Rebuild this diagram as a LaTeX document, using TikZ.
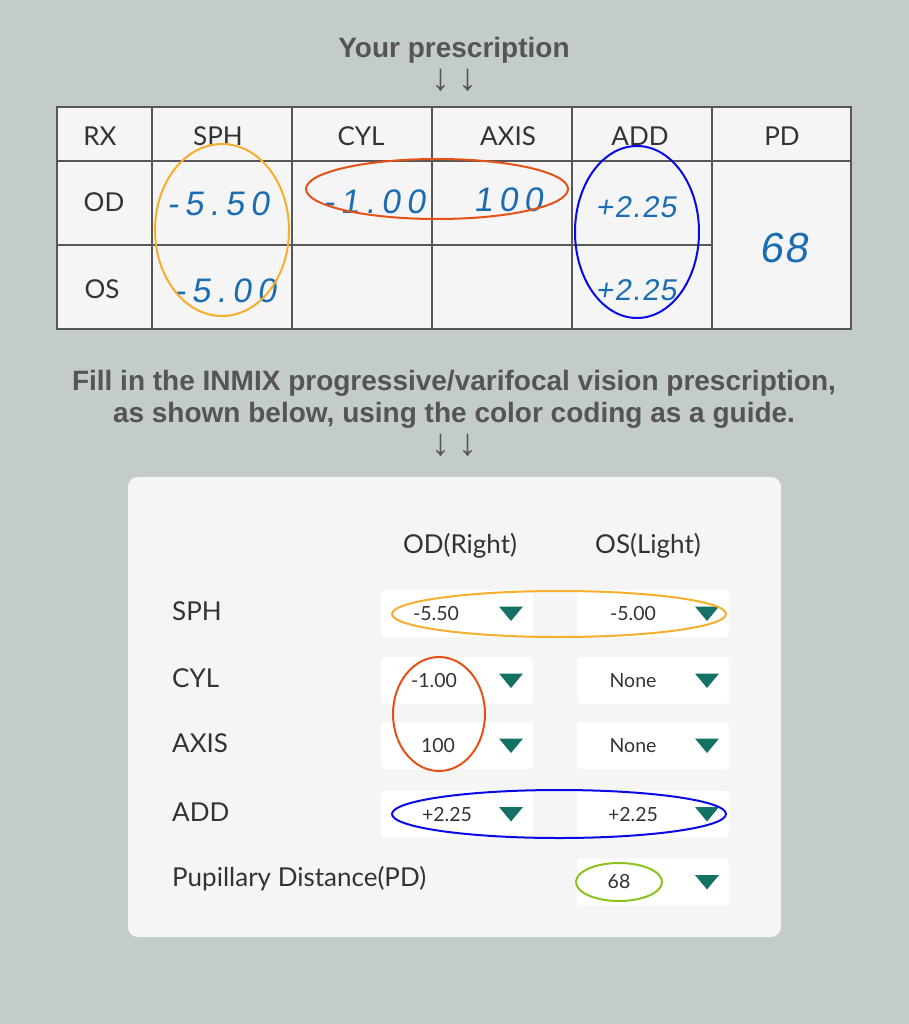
\documentclass[tikz,border=0pt]{standalone}
\usepackage{fontspec}
\setmainfont{Lato}
\newfontfamily\headfont{Liberation Sans}
\newfontfamily\handfont[LetterSpace=18,FakeSlant=0.15]{Liberation Sans}
\newfontfamily\handtight[LetterSpace=4,FakeSlant=0.15]{Liberation Sans}
\usepackage{tikz}
\usetikzlibrary{positioning,calc}
\definecolor{bg}{HTML}{C3CCCB}
\definecolor{paper}{HTML}{F5F5F5}
\definecolor{gridcol}{HTML}{575757}
\definecolor{txt}{HTML}{333333}
\definecolor{headtxt}{HTML}{555555}
\definecolor{ink}{HTML}{1A6DB3}
\definecolor{sphcol}{HTML}{F6AE2D}
\definecolor{cylcol}{HTML}{E65115}
\definecolor{addcol}{HTML}{0A0AE6}
\definecolor{pdcol}{HTML}{8CC21E}
\definecolor{dropcol}{HTML}{137265}

\begin{document}
\begin{tikzpicture}[x=1pt,y=-1pt,
	every node/.style={inner sep=0pt},
	title/.style={font=\headfont\bfseries\fontsize{28}{30}\selectfont, text=headtxt, anchor=base},
	downarrow/.style={font=\headfont\fontsize{38}{40}\selectfont, text=headtxt},
	cell/.style={font=\fontsize{26}{28}\selectfont, text=txt, anchor=base},
	hand/.style={font=\handfont\fontsize{34}{36}\selectfont, text=ink, anchor=base},
	rowname/.style={font=\fontsize{26}{28}\selectfont, text=txt, anchor=base west},
	choice/.style={fill=white, rounded corners=4pt, minimum width=152pt, minimum height=47pt},
	value/.style={font=\fontsize{19.5}{22}\selectfont, text=txt, anchor=base},
	ring/.style={line width=2pt}]
	\fill [bg] (0,0) rectangle (909,1024);
	% the written prescription
	\node [title] (rx-title) at (454,58) {Your prescription};
	\node [downarrow] (rx-arrow-a) at (441,80) {↓};
	\node [downarrow] (rx-arrow-b) at (468,80) {↓};
	\fill [paper] (57,107) rectangle (851,329);
	\draw [gridcol, line width=1.5pt] (57,107) rectangle (851,329);
	\foreach \x in {152,292,432,572,712}
		\draw [gridcol, line width=1.5pt] (\x,107) -- (\x,329);
	\draw [gridcol, line width=1.5pt] (57,161) -- (851,161);
	\draw [gridcol, line width=1.5pt] (57,245) -- (712,245);
	\foreach \name/\x in {RX/100,SPH/218,CYL/361,AXIS/508,ADD/640,PD/782}
		\node [cell] (h-\name) at (\x,146) {\name};
	\node [cell] (r-OD) at (104,212) {OD};
	\node [cell] (r-OS) at (102,298) {OS};
	\node [hand] (w-od-sph) at (218,216) {-5.50};
	\node [hand] (w-os-sph) at (225,302) {-5.00};
	\node [hand] (w-od-cyl) at (374,214) {-1.00};
	\node [hand] (w-od-axis) at (508,212) {100};
	\node [hand, font=\handtight\fontsize{30}{32}\selectfont] (w-od-add) at (636,218) {+2.25};
	\node [hand, font=\handtight\fontsize{30}{32}\selectfont] (w-os-add) at (636,300) {+2.25};
	\node [hand, font=\handtight\fontsize{42}{44}\selectfont] (w-pd) at (784,262) {68};
	\draw [ring, sphcol] (222,230) ellipse [x radius=67, y radius=86];
	\draw [ring, cylcol] (437,189) ellipse [x radius=131, y radius=30];
	\draw [ring, addcol] (637,232) ellipse [x radius=62, y radius=86];
	% how to fill it in
	\node [title] (fill-a) at (454,390) {Fill in the INMIX progressive/varifocal vision prescription,};
	\node [title] (fill-b) at (454,422) {as shown below, using the color coding as a guide.};
	\node [downarrow] (fill-arrow-a) at (441,445) {↓};
	\node [downarrow] (fill-arrow-b) at (468,445) {↓};
	\fill [paper, rounded corners=10pt] (128,477) rectangle (781,937);
	\node [cell] (c-od) at (460,553) {OD(Right)};
	\node [cell] (c-os) at (648,553) {OS(Light)};
	\foreach \row/\label/\y/\base/\odv/\odx/\osv in {sph/SPH/613.5/620/-5.50/436/-5.00,
			cyl/CYL/680.5/687/-1.00/434/None,
			axis/AXIS/745.5/752/100/438/None,
			add/ADD/814/821/+2.25/447/+2.25}{
		\node [rowname] (n-\row) at (172,\base) {\label};
		\node [choice] (\row-od) at (457,\y) {};
		\node [choice] (\row-os) at (653,\y) {};
		\node [value] (\row-od-v) at (\odx,\base) {\odv};
		\node [value] (\row-os-v) at (633,\base) {\osv};
		\fill [dropcol] (499,\y-7) -- (523,\y-7) -- (511,\y+7.5) -- cycle;
		\fill [dropcol] (695,\y-7) -- (719,\y-7) -- (707,\y+7.5) -- cycle;
	}
	\node [rowname] (n-pd) at (172,886) {Pupillary Distance(PD)};
	\node [choice] (pd-os) at (653,882) {};
	\node [value] (pd-os-v) at (619,888) {68};
	\fill [dropcol] (695,875) -- (719,875) -- (707,889.5) -- cycle;
	\draw [ring, sphcol] (559,614) ellipse [x radius=167, y radius=23];
	\draw [ring, cylcol] (439,714) ellipse [x radius=46, y radius=57];
	\draw [ring, addcol] (559,814) ellipse [x radius=167, y radius=24];
	\draw [ring, pdcol] (619,882) ellipse [x radius=43, y radius=19];
\end{tikzpicture}
\end{document}
